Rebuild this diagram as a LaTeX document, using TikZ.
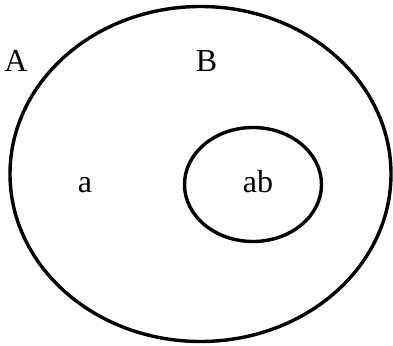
\documentclass[tikz,border=0pt]{standalone}
\usepackage{fontspec}
\setmainfont{Liberation Serif}
\usetikzlibrary{shapes.geometric}
\begin{document}
\begin{tikzpicture}[x=1pt,y=-1pt]
    \tikzset{
        set/.style={draw, ellipse, line width=3.4pt, inner sep=0pt},
        lbl/.style={anchor=base, inner sep=0pt, font=\fontsize{32}{38}\selectfont}
    }
    \useasboundingbox (0,0) rectangle (393,345);

    \draw node[set, minimum width=381pt, minimum height=335pt] (outer) at (200.5,174) {};
    \draw node[set, minimum width=137pt, minimum height=114pt] (inner) at (253,184.5) {};

    \draw node[lbl] (labA) at (16,71) {A};
    \draw node[lbl] (labB) at (206.5,71) {B};
    \draw node[lbl] (laba) at (85,192) {a};
    \draw node[lbl] (labab) at (258,192) {ab};
\end{tikzpicture}
\end{document}
